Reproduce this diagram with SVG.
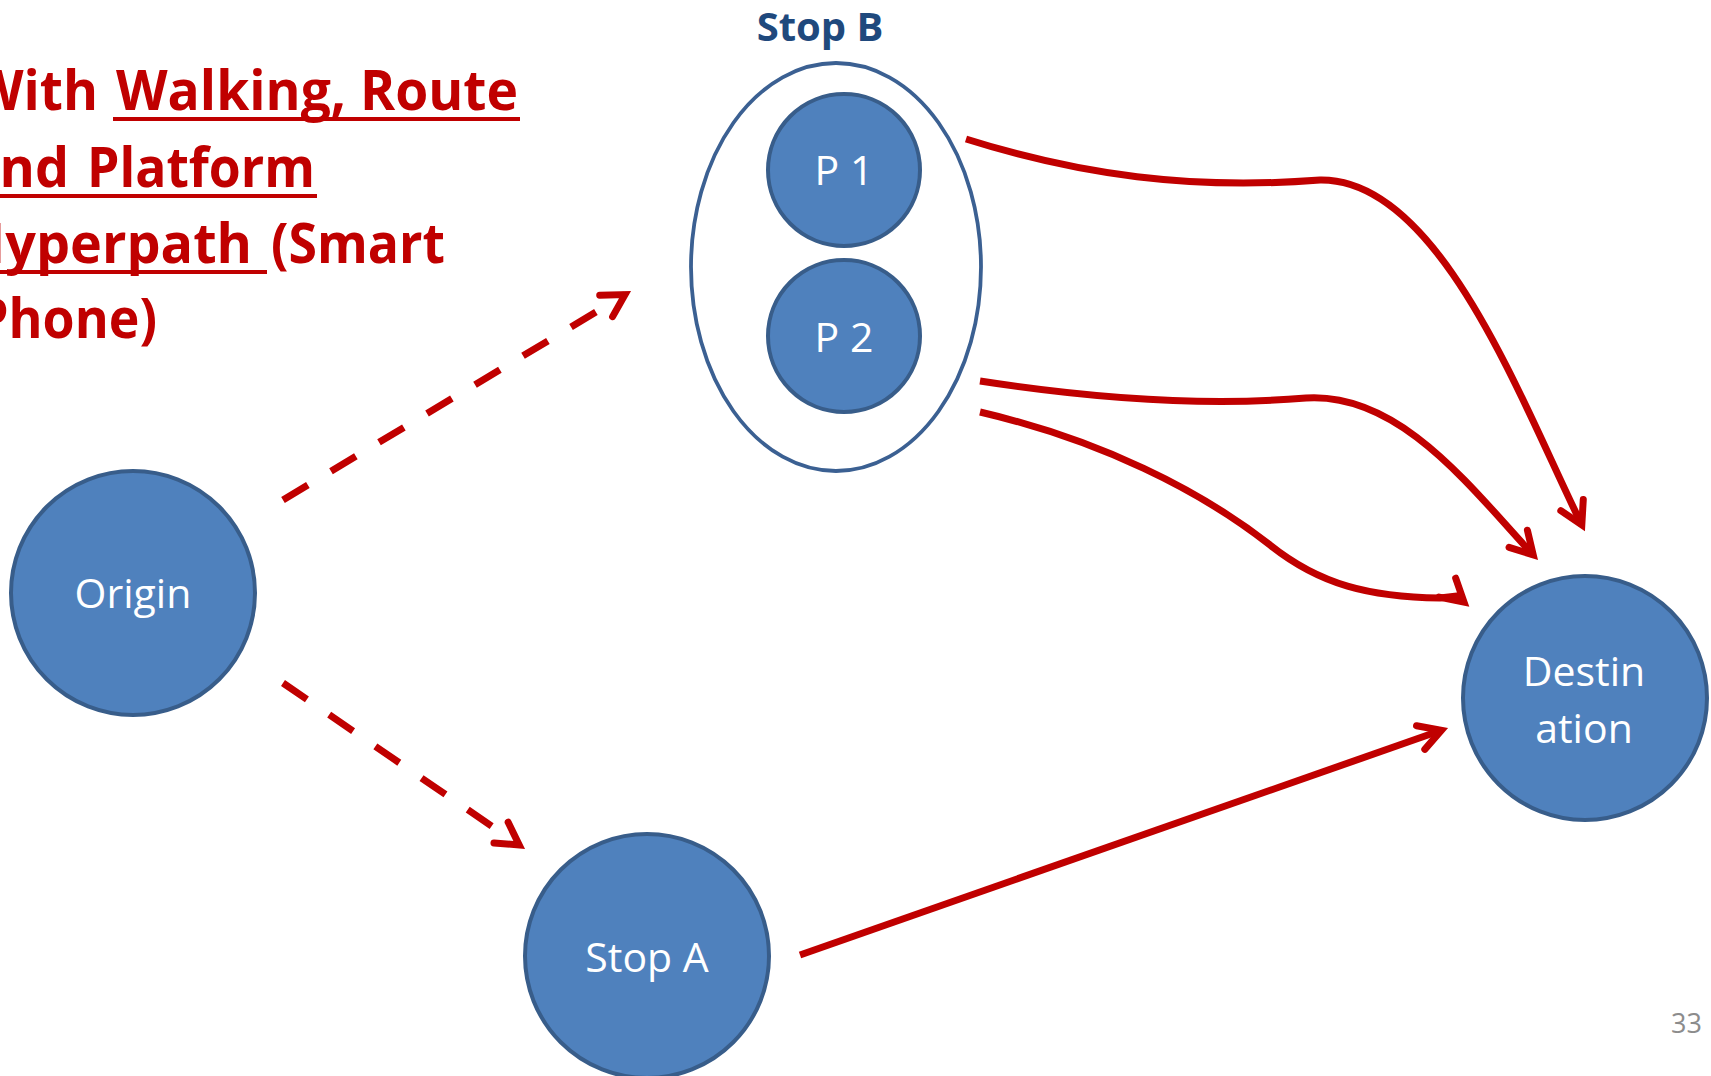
<svg xmlns="http://www.w3.org/2000/svg" width="1711" height="1076" viewBox="0 0 1711 1076">
  <style>
    .node { fill: #4f81bd; stroke: #385d8a; stroke-width: 4; }
    .group { fill: #ffffff; stroke: #3b6092; stroke-width: 3.8; }
    .label { font-family: "Open Sans", "Liberation Sans", sans-serif; font-size: 41px; fill: #ffffff; text-anchor: middle; }
    .group-label { font-family: "Open Sans", "Liberation Sans", sans-serif; font-size: 40px; font-weight: bold; fill: #1f497d; text-anchor: middle; }
    .title { font-family: "Open Sans", "Liberation Sans", sans-serif; font-size: 55px; font-weight: bold; fill: #c00000; }
    .uline { stroke: #c00000; stroke-width: 4; }
    .edge { fill: none; stroke: #c00000; stroke-width: 7; stroke-linecap: butt; stroke-linejoin: round; marker-end: url(#open-arrow); }
    .walk { stroke-dasharray: 29 27; }
    .page { font-family: "Open Sans", "Liberation Sans", sans-serif; font-size: 27px; fill: #8c8c8c; text-anchor: end; }
  </style>
  <defs>
    <marker id="open-arrow" viewBox="-5 -3 6 6" refX="0" refY="0" markerWidth="6" markerHeight="6" markerUnits="strokeWidth" orient="auto" overflow="visible">
      <path d="M-3.14,-1.79 L0,0 L-3.14,1.79" fill="none" stroke="#c00000" stroke-width="1" stroke-dasharray="none" stroke-linecap="round" stroke-linejoin="miter" stroke-miterlimit="10"/>
    </marker>
  </defs>

  <rect width="1711" height="1076" fill="#ffffff"/>

  <!-- heading, running off the left edge -->
  <g id="heading">
    <text class="title" y="110"><tspan x="-28" textLength="126" lengthAdjust="spacingAndGlyphs">With</tspan><tspan x="116" textLength="402" lengthAdjust="spacingAndGlyphs">Walking, Route</tspan></text>
    <text class="title" y="187"><tspan x="-33" textLength="102" lengthAdjust="spacingAndGlyphs">and</tspan><tspan x="87" textLength="228" lengthAdjust="spacingAndGlyphs">Platform</tspan></text>
    <text class="title" y="263"><tspan x="-36" textLength="288" lengthAdjust="spacingAndGlyphs">Hyperpath</tspan><tspan x="271" textLength="174" lengthAdjust="spacingAndGlyphs">(Smart</tspan></text>
    <text class="title" y="338"><tspan x="-24" textLength="181" lengthAdjust="spacingAndGlyphs">Phone)</tspan></text>
    <line class="uline" x1="113" y1="119" x2="520" y2="119"/>
    <line class="uline" x1="0" y1="196" x2="317" y2="196"/>
    <line class="uline" x1="0" y1="272" x2="267" y2="272"/>
  </g>

  <g id="origin">
    <circle class="node" cx="133" cy="593" r="122"/>
    <text class="label" x="133" y="608">Origin</text>
  </g>

  <g id="stop-b">
    <ellipse class="group" cx="836" cy="267" rx="145" ry="204"/>
    <text class="group-label" x="820" y="41">Stop B</text>
  </g>

  <g id="platform-1">
    <circle class="node" cx="844" cy="170" r="76"/>
    <text class="label" x="844" y="185">P 1</text>
  </g>

  <g id="platform-2">
    <circle class="node" cx="844" cy="336" r="76"/>
    <text class="label" x="844" y="352">P 2</text>
  </g>

  <g id="stop-a">
    <circle class="node" cx="647" cy="956" r="122"/>
    <text class="label" x="647" y="972">Stop A</text>
  </g>

  <g id="destination">
    <circle class="node" cx="1585" cy="698" r="122"/>
    <text class="label" x="1584" y="686">Destin</text>
    <text class="label" x="1584" y="743">ation</text>
  </g>

  <g id="connectors">
    <!-- walking legs -->
    <path class="edge walk" d="M283,500 L625,294.6"/>
    <path class="edge walk" d="M283,683 L519.2,845"/>
    <!-- ride from Stop A -->
    <path class="edge" d="M800,955 L1441.4,730.3"/>
    <!-- ride from platform 1 -->
    <path class="edge" d="M966,139 C1080,175 1190,190 1320,180 C1440,178 1522,404 1581.8,524.8"/>
    <!-- rides from platform 2 -->
    <path class="edge" d="M980,381 C1090,398 1200,407 1306,398 C1400,392 1471,488 1533.2,554.9"/>
    <path class="edge" d="M980,412 C1100,440 1200,490 1270,545 C1320,585 1370,597 1440,598 L1457,596 L1464,602.1"/>
  </g>

  <text class="page" x="1702" y="1033">33</text>
</svg>
